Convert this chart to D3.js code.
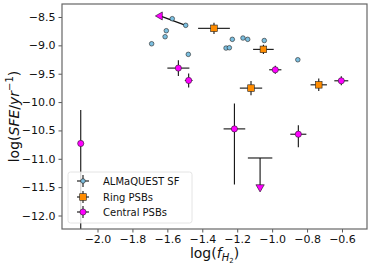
<!DOCTYPE html>
<html>
<head>
<meta charset="utf-8">
<script src="https://cdn.jsdelivr.net/npm/d3@7"></script>
<style>
  body { margin: 0; background: #fff; }
  svg { font-family: "DejaVu Sans", sans-serif; }
</style>
</head>
<body>
<div id="chart"></div>
<script>
// ALMaQUEST star-forming spaxels
var sfX = [-1.572, -1.495, -1.606, -1.613, -1.690, -1.480, -1.228, -1.264, -1.245, -1.167, -1.140, -1.045, -0.853];
var sfY = [-8.53, -8.647, -8.742, -8.848, -8.972, -9.159, -8.894, -9.048, -9.042, -8.871, -8.894, -8.915, -9.254];

// Ring PSBs
var ringX = [-1.333, -1.050, -1.121, -0.733];
var ringY = [-8.70, -9.071, -9.754, -9.696];
var ringXerr = [0.091, 0.059, 0.064, 0.047];
var ringYerr = [0.10, 0.08, 0.127, 0.11];

// Central PSBs
var cenX = [-1.537, -1.478, -0.982, -0.604, -1.216, -0.850, -2.096];
var cenY = [-9.401, -9.619, -9.431, -9.625, -10.473, -10.567, -10.73];
var cenXerr = [0.063, 0.022, 0.035, 0.04, 0.062, 0.046, 0.015];
var cenYlo = [0.14, 0.124, 0.07, 0.08, 0.98, 0.23, 1.6];
var cenYhi = [0.14, 0.124, 0.07, 0.08, 0.447, 0.16, 0.59];

// Central PSB upper limit
var limX = [-1.069];
var limY = [-10.986];
var limXerr = [0.07];
var limYend = [-11.5];

// arrow from an SF point to a central PSB
var arrowFrom = [-1.495, -8.647];
var arrowTo = [-1.642, -8.482];

var xTicks = [-2.0, -1.8, -1.6, -1.4, -1.2, -1.0, -0.8, -0.6];
var yTicks = [-8.5, -9.0, -9.5, -10.0, -10.5, -11.0, -11.5, -12.0];

var legendLabels = ["ALMaQUEST SF", "Ring PSBs", "Central PSBs"];

var W = 374, H = 267;
var pL = 62, pR = 367, pT = 4, pB = 229;

var x = d3.scaleLinear().domain([-2.2033, -0.4568]).range([pL, pR]);
var y = d3.scaleLinear().domain([-8.271, -12.238]).range([pT, pB]);

var sfColor = "#7bbfe0", ringColor = "#ff8c00", cenColor = "#ff00ff";

var svg = d3.select("#chart").append("svg")
    .attr("width", W)
    .attr("height", H);

svg.append("clipPath").attr("id", "clip")
  .append("rect")
    .attr("x", pL).attr("y", pT)
    .attr("width", pR - pL).attr("height", pB - pT);

// axes
var fmt = d3.format(".1f");
var xAxis = svg.append("g")
    .attr("transform", "translate(0," + pB + ")")
    .call(d3.axisBottom(x).tickValues(xTicks).tickFormat(fmt).tickSizeInner(3.5).tickSizeOuter(0).tickPadding(2.5));
var yAxis = svg.append("g")
    .attr("transform", "translate(" + pL + ",0)")
    .call(d3.axisLeft(y).tickValues(yTicks).tickFormat(fmt).tickSizeInner(3.5).tickSizeOuter(0).tickPadding(3));
[xAxis, yAxis].forEach(function (a) {
    a.select(".domain").remove();
    a.selectAll(".tick line").attr("stroke", "#444").attr("stroke-width", 0.9);
    a.selectAll(".tick text").attr("fill", "#111").style("font-size", "11px").style("font-family", "DejaVu Sans");
});

var g = svg.append("g").attr("clip-path", "url(#clip)");

svg.append("rect")
    .attr("x", pL).attr("y", pT)
    .attr("width", pR - pL).attr("height", pB - pT)
    .attr("fill", "none")
    .attr("stroke", "#666")
    .attr("stroke-width", 1.2);

// error bars
function errbar(sel, xs, ys, xe, ylo, yhi) {
    xs.forEach(function (d, i) {
        sel.append("line")
            .attr("x1", x(d - xe[i])).attr("x2", x(d + xe[i]))
            .attr("y1", y(ys[i])).attr("y2", y(ys[i]))
            .attr("stroke", "#111").attr("stroke-width", 1.1);
        sel.append("line")
            .attr("x1", x(d)).attr("x2", x(d))
            .attr("y1", y(ys[i] - ylo[i])).attr("y2", y(ys[i] + yhi[i]))
            .attr("stroke", "#111").attr("stroke-width", 1.1);
    });
}

errbar(g, ringX, ringY, ringXerr, ringYerr, ringYerr);
errbar(g, cenX, cenY, cenXerr, cenYlo, cenYhi);

// upper limit
limX.forEach(function (d, i) {
    g.append("line")
        .attr("x1", x(d - limXerr[i])).attr("x2", x(d + limXerr[i]))
        .attr("y1", y(limY[i])).attr("y2", y(limY[i]))
        .attr("stroke", "#111").attr("stroke-width", 1.1);
    g.append("line")
        .attr("x1", x(d)).attr("x2", x(d))
        .attr("y1", y(limY[i])).attr("y2", y(limYend[i]))
        .attr("stroke", "#111").attr("stroke-width", 1.1);
    g.append("path")
        .attr("d", d3.symbol(d3.symbolTriangle, 30)())
        .attr("transform", "translate(" + x(d) + "," + y(limYend[i]) + ") rotate(180)")
        .attr("fill", cenColor).attr("stroke", "#111").attr("stroke-width", 0.6);
});

// arrow line
g.append("line")
    .attr("x1", x(arrowFrom[0])).attr("y1", y(arrowFrom[1]))
    .attr("x2", x(arrowTo[0])).attr("y2", y(arrowTo[1]))
    .attr("stroke", "#111").attr("stroke-width", 1.3);
g.append("path")
    .attr("d", d3.symbol(d3.symbolTriangle, 28)())
    .attr("transform", "translate(" + x(arrowTo[0]) + "," + y(arrowTo[1]) + ") rotate(-90)")
    .attr("fill", cenColor).attr("stroke", "#111").attr("stroke-width", 0.6);

// markers
g.selectAll(".sf").data(sfX).enter().append("circle")
    .attr("cx", function (d) { return x(d); })
    .attr("cy", function (d, i) { return y(sfY[i]); })
    .attr("r", 2.3)
    .attr("fill", sfColor).attr("stroke", "#222").attr("stroke-width", 0.6);

g.selectAll(".ring").data(ringX).enter().append("rect")
    .attr("x", function (d) { return x(d) - 3.3; })
    .attr("y", function (d, i) { return y(ringY[i]) - 3.3; })
    .attr("width", 6.6).attr("height", 6.6)
    .attr("fill", ringColor).attr("stroke", "#222").attr("stroke-width", 0.6);

g.selectAll(".cen").data(cenX).enter().append("circle")
    .attr("cx", function (d) { return x(d); })
    .attr("cy", function (d, i) { return y(cenY[i]); })
    .attr("r", 3.1)
    .attr("fill", cenColor).attr("stroke", "#222").attr("stroke-width", 0.6);

// legend
var leg = svg.append("g");
leg.append("rect")
    .attr("x", 68).attr("y", 172)
    .attr("width", 124).attr("height", 51)
    .attr("rx", 2.5)
    .attr("fill", "#fff").attr("fill-opacity", 0.8)
    .attr("stroke", "#ddd").attr("stroke-width", 0.8);

var legY = [181, 197, 212];
legendLabels.forEach(function (lab, i) {
    var cx = 83, cy = legY[i];
    leg.append("line").attr("x1", cx - 6).attr("x2", cx + 6).attr("y1", cy).attr("y2", cy)
        .attr("stroke", "#111").attr("stroke-width", 1.1);
    leg.append("line").attr("x1", cx).attr("x2", cx).attr("y1", cy - 6).attr("y2", cy + 6)
        .attr("stroke", "#111").attr("stroke-width", 1.1);
    if (i === 0) {
        leg.append("circle").attr("cx", cx).attr("cy", cy).attr("r", 2.3)
            .attr("fill", sfColor).attr("stroke", "#222").attr("stroke-width", 0.6);
    } else if (i === 1) {
        leg.append("rect").attr("x", cx - 3.3).attr("y", cy - 3.3).attr("width", 6.6).attr("height", 6.6)
            .attr("fill", ringColor).attr("stroke", "#222").attr("stroke-width", 0.6);
    } else {
        leg.append("circle").attr("cx", cx).attr("cy", cy).attr("r", 3.1)
            .attr("fill", cenColor).attr("stroke", "#222").attr("stroke-width", 0.6);
    }
    leg.append("text")
        .attr("x", 103).attr("y", cy + 3.6)
        .style("font-size", "10px")
        .attr("fill", "#111")
        .text(lab);
});

// axis labels
var xl = svg.append("text")
    .attr("x", (pL + pR) / 2).attr("y", 258)
    .attr("text-anchor", "middle")
    .style("font-size", "14px")
    .attr("fill", "#111");
xl.append("tspan").text("log(");
xl.append("tspan").style("font-style", "italic").text("f");
xl.append("tspan").style("font-style", "italic").style("font-size", "10px").attr("dy", 3).text("H");
xl.append("tspan").style("font-size", "7px").attr("dy", 2).text("2");
xl.append("tspan").attr("dy", -5).text(")");

var yl = svg.append("text")
    .attr("transform", "translate(19," + ((pT + pB) / 2) + ") rotate(-90)")
    .attr("text-anchor", "middle")
    .style("font-size", "14px")
    .attr("fill", "#111");
yl.append("tspan").text("log(");
yl.append("tspan").style("font-style", "italic").text("SFE");
yl.append("tspan").text("/");
yl.append("tspan").style("font-style", "italic").text("yr");
yl.append("tspan").style("font-size", "10px").attr("dy", -6).text("−1");
yl.append("tspan").attr("dy", 6).text(")");
</script>
</body>
</html>
